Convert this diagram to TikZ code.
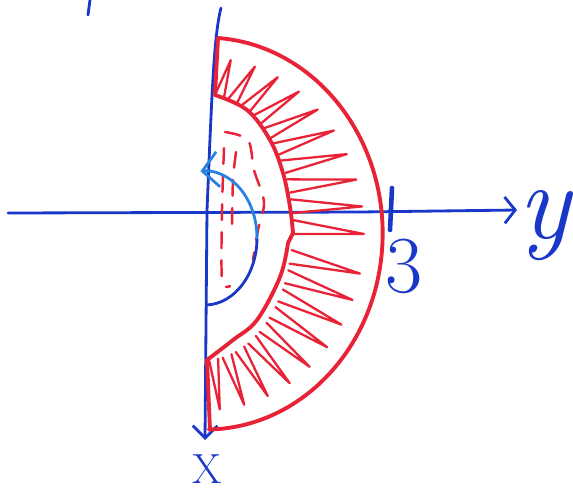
\documentclass[tikz,border=0pt]{standalone}
\usepackage{tikz}
\usepackage{xcolor}
\usetikzlibrary{arrows.meta,calc}

\definecolor{penred}{RGB}{232,35,55}
\definecolor{penblue}{RGB}{25,55,200}
\definecolor{penlight}{RGB}{40,130,225}

\begin{document}
\begin{tikzpicture}[
  x=0.02cm, y=0.02cm,
  axis/.style={draw=penblue, line width=1.6pt, line cap=round},
  rim/.style={draw=penred, line width=2.2pt, line cap=round, line join=round},
  hatch/.style={draw=penred, line width=1.3pt, line cap=round, line join=round},
  hidden/.style={draw=penred, line width=1.4pt, dash pattern=on 9pt off 7pt, line cap=round},
  handlabel/.style={text=penblue, inner sep=0pt},
]
\useasboundingbox (-206,-284) rectangle (367,210);

% centres of the two red arcs and of the blue arc
\coordinate (co) at (0,-24);
\coordinate (ci) at (0,-17);
\coordinate (cb) at (-1,-28);

% axes
\coordinate (xtop) at (15,202);
\coordinate (O) at (1,0);
\coordinate (xend) at (-1,-230);
\coordinate (ystart) at (-198,-3);
\coordinate (yend) at (311,0);
\draw[axis, -{Straight Barb[length=7pt, width=14pt]}] (xtop) .. controls (8,175) and (6,120) .. (O) -- (xend);
\draw[axis, -{Straight Barb[length=6pt, width=15pt]}] (ystart) -- (154,-2) -- (yend);
\draw[axis, line width=2.6pt] (186,22) -- (184,-20);
\draw[axis] (-116,210) -- (-118,195);

% labels
\node[handlabel, font=\fontsize{62}{62}\selectfont] (ylbl) at (340,-16) {\textit{y}};
\node[handlabel, font=\fontsize{46}{46}\selectfont] (three) at (198,-56) {3};
\node[handlabel, font=\fontsize{24}{24}\selectfont] (xlbl) at (1,-259) {X};

% red band: outer arc, inner arc, closing edges
\coordinate (otop) at (12,172);
\coordinate (itop) at (9,115);
\coordinate (ibot) at (1,-150);
\coordinate (obot) at (4,-220);
\draw[rim] (otop) arc[start angle=86, end angle=-89, x radius=177, y radius=196];
\draw[rim] plot[smooth, tension=0.6] coordinates {(9,115) (41,100) (64,70) (77,37) (84,3) (87,-23)}
  -- (82,-33) -- plot[smooth, tension=0.6] coordinates {(82,-33) (74,-67) (51,-110) (27,-130) (1,-150)};
\draw[rim] (otop) -- (itop);
\draw[rim] (ibot) -- (obot);

% hatching of the band
\foreach \a [evaluate=\a as \b using \a-3, evaluate=\a as \c using \a-6] in {84,75,...,3,-10,-19,...,-85} {
  \draw[hatch] ($(ci)+(\a:87 and 133)$) -- ($(co)+(\b:158 and 176)$) -- ($(ci)+(\c:87 and 133)$);
}

% dashed red curves inside
\draw[hidden] plot[smooth] coordinates {(19,78) (42,70) (48,40) (58,8) (52,-20) (47,-50)};
\draw[hidden] plot[smooth] coordinates {(30,58) (27,30) (26,-15)};
\draw[hidden] plot[smooth] coordinates {(18,62) (16,0) (16,-70) (24,-76)};

% blue arc with arrow
\draw[axis, draw=penblue] (cb) ++(-88:52 and 67) arc[start angle=-88, end angle=0, x radius=52, y radius=67];
\draw[axis, draw=penlight, -{Straight Barb[length=9pt, width=20pt]}] (cb) ++(0:52 and 67) arc[start angle=0, end angle=95, x radius=52, y radius=67];
\end{tikzpicture}
\end{document}
